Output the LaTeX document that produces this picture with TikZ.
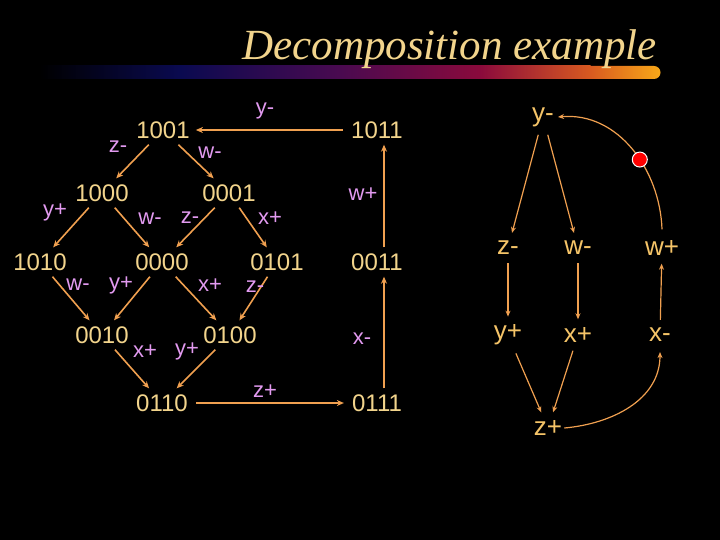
\documentclass[tikz,border=0pt]{standalone}
\usepackage{fontspec}
\setmainfont{Liberation Sans}
\newfontfamily\titlefont{Liberation Serif}
\usetikzlibrary{arrows.meta}
\definecolor{numc}{HTML}{F2D48C}
\definecolor{labc}{HTML}{E29AF0}
\definecolor{arrc}{HTML}{F0A050}
\definecolor{rtc}{HTML}{F5C468}
\definecolor{navyc}{HTML}{0A0A50}
\definecolor{purc}{HTML}{4A0A50}
\definecolor{crimc}{HTML}{8A0A3C}
\definecolor{orc}{HTML}{D85A20}
\definecolor{goldc}{HTML}{F8A818}
\tikzset{
  num/.style={text=numc,font=\fontsize{24}{24}\selectfont,inner xsep=4pt,inner ysep=6pt},
  lab/.style={text=labc,font=\fontsize{22}{22}\selectfont,inner sep=0pt},
  rt/.style={text=rtc,font=\fontsize{26}{26}\selectfont,inner sep=8pt},
  arr/.style={draw=arrc,line width=1.6pt,-{Stealth[length=7pt,width=6pt]}},
  rarr/.style={draw=arrc,line width=1.2pt,-{Stealth[length=6pt,width=5pt]}},
}
\begin{document}
\begin{tikzpicture}[x=1pt,y=-1pt]
\fill[black] (0,0) rectangle (720,540);
\useasboundingbox (0,0) rectangle (720,540);
% title bar
\shade[left color=black,right color=navyc] (40,66) rectangle (180.5,79);
\shade[left color=navyc,right color=purc] (180,66) rectangle (340.5,79);
\shade[left color=purc,right color=crimc] (340,66) rectangle (480.5,79);
\shade[left color=crimc,right color=orc] (480,66) rectangle (590.5,79);
\shade[left color=orc,right color=goldc] (590,66) -- (654,66) arc[start angle=90,end angle=-90,radius=6.5pt] -- (590,79) -- cycle;
\node[anchor=base east,text=numc,font=\titlefont\itshape\fontsize{43}{43}\selectfont,inner sep=0pt] (title) at (657,60) {Decomposition example};
% states
\node[num] (n1001) at (163,130) {1001};
\node[num] (n1011) at (377,130) {1011};
\node[num] (n1000) at (102,193) {1000};
\node[num] (n0001) at (229,193) {0001};
\node[num] (n1010) at (40,262) {1010};
\node[num] (n0000) at (162,262) {0000};
\node[num] (n0101) at (277,262) {0101};
\node[num] (n0011) at (377,262) {0011};
\node[num] (n0010) at (102,335) {0010};
\node[num] (n0100) at (230,335) {0100};
\node[num] (n0110) at (162,403) {0110};
\node[num] (n0111) at (377,403) {0111};
\draw[arr] (n1001) -- (n1000);
\draw[arr] (n1001) -- (n0001);
\draw[arr] (n1000) -- (n1010);
\draw[arr] (n1000) -- (n0000);
\draw[arr] (n0001) -- (n0000);
\draw[arr] (n0001) -- (n0101);
\draw[arr] (n1010) -- (n0010);
\draw[arr] (n0000) -- (n0010);
\draw[arr] (n0000) -- (n0100);
\draw[arr] (n0101) -- (n0100);
\draw[arr] (n0010) -- (n0110);
\draw[arr] (n0100) -- (n0110);
\draw[arr] ([xshift=4pt]n0110.east) -- ([xshift=-4pt]n0111.west);
\draw[arr] ([xshift=7pt]n0111.north) -- ([xshift=7pt]n0011.south);
\draw[arr] ([xshift=7pt]n0011.north) -- ([xshift=7pt]n1011.south);
\draw[arr] ([xshift=-4pt]n1011.west) -- ([xshift=2pt]n1001.east);
% labels
\node[lab] (l1) at (265,111) {y-};
\node[lab] (l2) at (118,147) {z-};
\node[lab] (l3) at (210,153) {w-};
\node[lab] (l4) at (55,212) {y+};
\node[lab] (l5) at (150,219) {w-};
\node[lab] (l6) at (190,218) {z-};
\node[lab] (l7) at (270,218) {x+};
\node[lab] (l8) at (363,194) {w+};
\node[lab] (l9) at (78,285) {w-};
\node[lab] (l10) at (121,285) {y+};
\node[lab] (l11) at (210,285) {x+};
\node[lab] (l12) at (255,287) {z-};
\node[lab] (l13) at (362,339) {x-};
\node[lab] (l14) at (145,351) {x+};
\node[lab] (l15) at (187,351) {y+};
\node[lab] (l16) at (265,391) {z+};
% right graph
\node[rt] (ym) at (543,117) {y-};
\node[rt] (zm) at (508,248) {z-};
\node[rt] (wm) at (578,248) {w-};
\node[rt] (wp) at (662,248) {w+};
\node[rt] (yp) at (508,335) {y+};
\node[rt] (xp) at (578,335) {x+};
\node[rt] (xm) at (660,335) {x-};
\node[rt] (zp) at (548,428) {z+};
\draw[rarr] (ym) -- (zm);
\draw[rarr] (ym) -- (wm);
\draw[rarr] (zm) -- (yp);
\draw[rarr] (wm) -- (xp);
\draw[rarr] (yp) -- (zp);
\draw[rarr] (xp) -- (zp);
\draw[rarr] ([xshift=-6pt]zp.east) to[out=5,in=-90] ([yshift=-2pt]xm.south);
\draw[rarr] (xm) -- (wp);
\draw[rarr] ([yshift=3pt]wp.north) to[out=92,in=5] node[pos=0.42,circle,fill=red,draw=white,line width=1pt,inner sep=0pt,minimum size=15pt] (dot) {} ([xshift=-4pt]ym.east);
\end{tikzpicture}
\end{document}
